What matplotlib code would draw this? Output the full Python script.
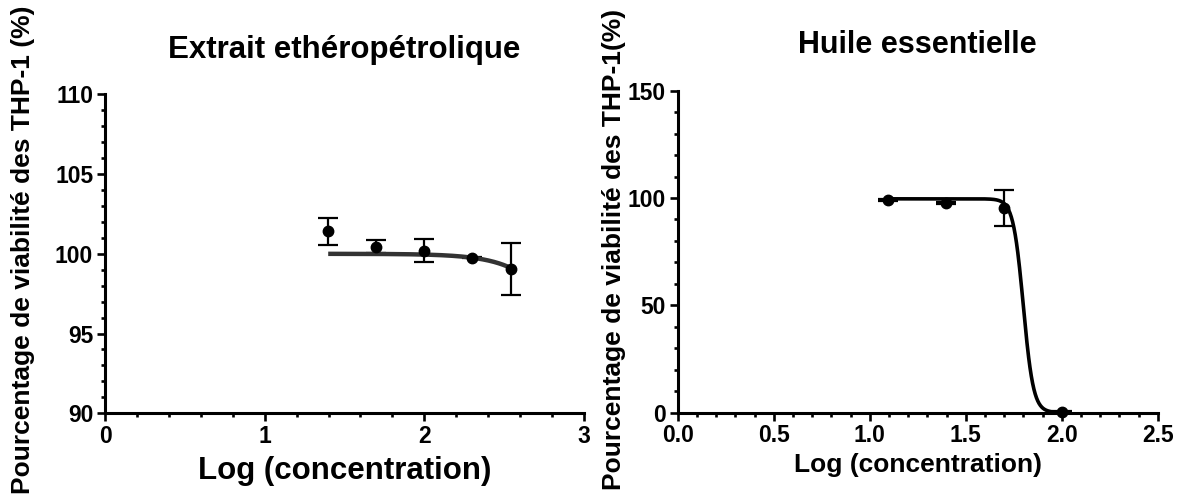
import numpy as np
import matplotlib
matplotlib.use("Agg")
import matplotlib.pyplot as plt
from matplotlib.ticker import MultipleLocator, FormatStrFormatter

plt.rcParams['font.family'] = ['Liberation Sans', 'DejaVu Sans']
plt.rcParams['font.weight'] = 'bold'

# Petroleum-ether extract
ext_conc = [25, 50, 100, 200, 350]
ext_mean = [101.40, 100.45, 100.20, 99.76, 99.07]
ext_sem = [0.87, 0.42, 0.72, 0.05, 1.63]
ext_fit = dict(top=100.0, bottom=0.0, log_ic50=3.42, hill=2.33)

# Essential oil
oil_conc = [12.5, 25, 50, 100]
oil_mean = [99.1, 97.8, 95.3, 0.3]
oil_sem = [0.4, 0.4, 8.6, 0.2]
oil_fit = dict(top=99.6, bottom=0.0, log_ic50=1.80, hill=16.5)

ylabel_left = "Pourcentage de viabilité des THP-1 (%)"
ylabel_right = "Pourcentage de viabilité des THP-1(%)"
xlabel = "Log (concentration)"


def dose_response(x, top, bottom, log_ic50, hill):
    return bottom + (top - bottom) / (1 + 10 ** ((x - log_ic50) * hill))


def style_axes(ax):
    for side in ("top", "right"):
        ax.spines[side].set_visible(False)
    for side in ("left", "bottom"):
        ax.spines[side].set_linewidth(2.2)
        ax.spines[side].set_capstyle('projecting')
    ax.tick_params(which='major', direction='out', length=5.5, width=1.9,
                   labelsize=16.5, pad=3)
    ax.tick_params(which='minor', direction='out', length=3.2, width=1.9)
    for lab in ax.get_xticklabels() + ax.get_yticklabels():
        lab.set_fontweight('bold')


W, H = 1189, 497
fig = plt.figure(figsize=(W / 100, H / 100), dpi=100)

# ---- left panel ----
ax1 = fig.add_axes([105 / W, 1 - 413.3 / H, (584 - 105) / W, (413.3 - 94.3) / H])
x1 = np.log10(ext_conc)
ax1.errorbar(x1, ext_mean, yerr=ext_sem, fmt='none', ecolor='black',
             elinewidth=1.6, capsize=7, capthick=1.6, zorder=2, clip_on=False)
xs = np.linspace(x1.min(), x1.max(), 300)
ax1.plot(xs, dose_response(xs, **ext_fit), color='#333333', lw=3.2,
         solid_capstyle='butt', zorder=3)
ax1.plot(x1, ext_mean, 'o', color='black', ms=7.5, zorder=4, clip_on=False)
ax1.set_xlim(0, 3)
ax1.set_ylim(90, 110)
ax1.xaxis.set_major_locator(MultipleLocator(1))
ax1.xaxis.set_minor_locator(MultipleLocator(0.2))
ax1.yaxis.set_major_locator(MultipleLocator(5))
ax1.yaxis.set_minor_locator(MultipleLocator(1))
style_axes(ax1)
ax1.set_title("Extrait ethéropétrolique", fontsize=22.5, fontweight='bold', pad=26)
ax1.set_xlabel(xlabel, fontsize=22.5, fontweight='bold', labelpad=6)

# ---- right panel ----
ax2 = fig.add_axes([677.7 / W, 1 - 412.5 / H, (1157.7 - 677.7) / W, (412.5 - 90.7) / H])
x2 = np.log10(oil_conc)
ax2.errorbar(x2, oil_mean, yerr=oil_sem, fmt='none', ecolor='black',
             elinewidth=1.6, capsize=7, capthick=1.6, zorder=2, clip_on=False)
xs2 = np.linspace(x2.min(), x2.max(), 400)
ax2.plot(xs2, dose_response(xs2, **oil_fit), color='black', lw=2.6,
         zorder=3, clip_on=False)
ax2.plot(x2, oil_mean, 'o', color='black', ms=7.5, zorder=4, clip_on=False)
ax2.set_xlim(0, 2.5)
ax2.set_ylim(0, 150)
ax2.xaxis.set_major_locator(MultipleLocator(0.5))
ax2.xaxis.set_minor_locator(MultipleLocator(0.1))
ax2.xaxis.set_major_formatter(FormatStrFormatter('%.1f'))
ax2.yaxis.set_major_locator(MultipleLocator(50))
ax2.yaxis.set_minor_locator(MultipleLocator(10))
style_axes(ax2)
ax2.set_title("Huile essentielle", fontsize=22, fontweight='bold', pad=27)
ax2.set_xlabel(xlabel, fontsize=19, fontweight='bold', labelpad=4)

# rotated y labels, running the full figure height
fig.text(23 / W, 1 - 250 / H, ylabel_left, rotation=90, ha='center', va='center',
         fontsize=19, fontweight='bold')
fig.text(614 / W, 1 - 249 / H, ylabel_right, rotation=90, ha='center', va='center',
         fontsize=19, fontweight='bold')

fig.savefig("out.png", dpi=100)
